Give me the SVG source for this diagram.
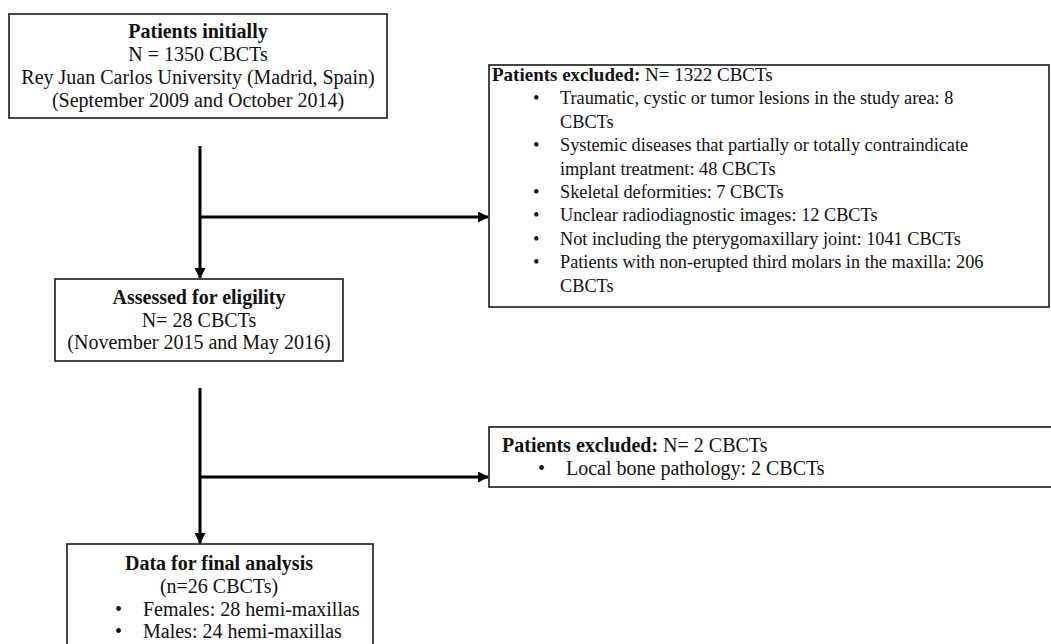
<svg xmlns="http://www.w3.org/2000/svg" width="1051" height="644" viewBox="0 0 1051 644">
<defs>
<style>
.box{fill:#fff;stroke:#1a1a1a;stroke-width:1.6}
text{font-family:"Liberation Serif","Times New Roman",serif;font-size:20px;fill:#111}
.b{font-weight:bold}
.c{text-anchor:middle}
.s{font-size:18.3px}
.h{font-size:19px}
.ln{stroke:#000;stroke-width:3;fill:none}
</style>
<marker id="ah" markerWidth="11" markerHeight="11" refX="10" refY="5.5" orient="auto" markerUnits="userSpaceOnUse" viewBox="0 0 11 11">
<path d="M0,0 L11,5.5 L0,11 z" fill="#000"/>
</marker>
</defs>
<rect width="1051" height="644" fill="#fff"/>
<g id="connectors">
<line class="ln" x1="200" y1="146" x2="200" y2="278" marker-end="url(#ah)"/>
<line class="ln" x1="200" y1="217" x2="488" y2="217" marker-end="url(#ah)"/>
<line class="ln" x1="200" y1="388" x2="200" y2="543" marker-end="url(#ah)"/>
<line class="ln" x1="200" y1="477" x2="488" y2="477" marker-end="url(#ah)"/>
</g>
<g id="initial">
<rect class="box" x="9" y="14" width="378" height="104"/>
<text class="c b" x="198" y="38">Patients initially</text>
<text class="c" x="198" y="61">N = 1350 CBCTs</text>
<text class="c" x="198" y="84">Rey Juan Carlos University (Madrid, Spain)</text>
<text class="c" x="198" y="107">(September 2009 and October 2014)</text>
</g>
<g id="excluded1">
<rect class="box" x="489" y="65" width="560" height="242"/>
<text class="h" x="492" y="81"><tspan class="b">Patients excluded:</tspan> N= 1322 CBCTs</text>
<g class="s">
<text class="s" x="533" y="104">•</text><text class="s" x="560" y="104">Traumatic, cystic or tumor lesions in the study area: 8</text>
<text class="s" x="560" y="128">CBCTs</text>
<text class="s" x="533" y="151">•</text><text class="s" x="560" y="151">Systemic diseases that partially or totally contraindicate</text>
<text class="s" x="560" y="175">implant treatment: 48 CBCTs</text>
<text class="s" x="533" y="198">•</text><text class="s" x="560" y="198">Skeletal deformities: 7 CBCTs</text>
<text class="s" x="533" y="221">•</text><text class="s" x="560" y="221">Unclear radiodiagnostic images: 12 CBCTs</text>
<text class="s" x="533" y="245">•</text><text class="s" x="560" y="245">Not including the pterygomaxillary joint: 1041 CBCTs</text>
<text class="s" x="533" y="268">•</text><text class="s" x="560" y="268">Patients with non-erupted third molars in the maxilla: 206</text>
<text class="s" x="560" y="292">CBCTs</text>
</g>
</g>
<g id="assessed">
<rect class="box" x="55" y="279" width="288" height="82"/>
<text class="c b" x="199" y="304">Assessed for eligility</text>
<text class="c" x="199" y="327">N= 28 CBCTs</text>
<text class="c" x="199" y="349">(November 2015 and May 2016)</text>
</g>
<g id="excluded2">
<rect class="box" x="489" y="427" width="570" height="60"/>
<text x="502" y="452"><tspan class="b">Patients excluded:</tspan> N= 2 CBCTs</text>
<text x="538" y="475">•</text><text x="566" y="475">Local bone pathology: 2 CBCTs</text>
</g>
<g id="final">
<rect class="box" x="67" y="544" width="306" height="110"/>
<text class="c b" x="219" y="570">Data for final analysis</text>
<text class="c" x="219" y="593">(n=26 CBCTs)</text>
<text x="115" y="616">•</text><text x="143" y="616">Females: 28 hemi-maxillas</text>
<text x="115" y="638">•</text><text x="143" y="638">Males: 24 hemi-maxillas</text>
</g>
</svg>
